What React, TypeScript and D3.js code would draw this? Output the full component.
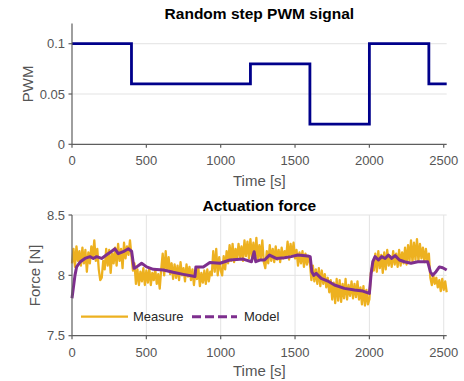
import React from "react";
import * as d3 from "d3";

// ---------- data ----------
const pwmTimes = [0, 400, 1200, 1600, 2000, 2400, 2520];
const pwmValues = [0.1, 0.06, 0.08, 0.02, 0.1, 0.06, 0.06];

const xTicks = [0, 500, 1000, 1500, 2000, 2500];
const pwmTicks = [0, 0.05, 0.1];
const pwmTickLabels = ["0", "0.05", "0.1"];
const forceTicks = [7.5, 8, 8.5];
const forceTickLabels = ["7.5", "8", "8.5"];

// measured force, sampled every 10 s from t = 0
const measureStart = 0;
const measureStep = 10;
const measureValues = [
  8.10, 8.22, 8.07, 8.24, 8.12, 8.20, 8.08, 8.23, 8.10, 8.21,
  8.03, 8.19, 8.10, 8.24, 8.15, 8.29, 8.12, 8.22, 8.05, 7.96,
  7.98, 8.12, 8.05, 8.22, 8.08, 8.21, 8.02, 8.18, 8.10, 8.23,
  8.08, 8.26, 8.12, 8.22, 8.06, 8.27, 8.14, 8.24, 8.17, 8.29,
  8.16, 8.04, 8.10, 7.93, 8.05, 7.92, 8.03, 7.95, 8.06, 7.92,
  8.04, 7.94, 8.06, 7.92, 8.02, 7.96, 8.05, 7.93, 8.01, 7.89,
  8.05, 8.18, 8.00, 8.20, 8.04, 8.15, 8.01, 8.10, 7.97, 8.09,
  7.98, 8.08, 7.96, 8.11, 8.00, 8.06, 7.95, 8.09, 7.99, 8.07,
  7.96, 8.05, 7.92, 8.03, 7.97, 8.06, 7.91, 8.02, 7.94, 8.04,
  7.93, 8.05, 7.95, 8.03, 8.00, 8.20, 8.03, 8.22, 8.00, 8.15,
  8.04, 8.00, 8.16, 8.05, 8.20, 8.10, 8.25, 8.12, 8.26, 8.11,
  8.22, 8.13, 8.26, 8.15, 8.24, 8.12, 8.29, 8.16, 8.28, 8.14,
  8.30, 8.15, 8.27, 8.13, 8.31, 8.12, 8.25, 8.14, 8.29, 8.11,
  8.06, 8.20, 8.10, 8.25, 8.12, 8.22, 8.11, 8.24, 8.13, 8.21,
  8.11, 8.23, 8.14, 8.20, 8.15, 8.28, 8.13, 8.26, 8.16, 8.27,
  8.14, 8.21, 8.08, 8.19, 8.10, 8.20, 8.07, 8.18, 8.09, 8.16,
  8.10, 7.96, 8.08, 7.95, 8.05, 7.93, 8.06, 7.91, 8.04, 7.93,
  8.01, 7.90, 7.98, 7.86, 7.96, 7.80, 7.94, 7.77, 7.97, 7.79,
  7.96, 7.78, 7.93, 7.81, 7.97, 7.80, 7.92, 7.83, 7.95, 7.81,
  7.93, 7.82, 7.95, 7.80, 7.90, 7.76, 7.91, 7.75, 7.88, 7.76,
  7.80, 8.02, 8.08, 8.04, 8.18, 8.03, 8.20, 8.06, 8.17, 8.02,
  8.19, 8.05, 8.21, 8.08, 8.16, 8.07, 8.20, 8.09, 8.18, 8.07,
  8.21, 8.08, 8.19, 8.10, 8.23, 8.09, 8.25, 8.12, 8.29, 8.11,
  8.27, 8.13, 8.30, 8.12, 8.26, 8.14, 8.23, 8.11, 8.22, 8.12,
  8.18, 7.98, 7.92, 8.00, 7.93, 7.98, 7.90, 7.96, 7.87, 7.97,
  7.88, 7.95, 7.86,
];

// model force
const modelTimes = [
  0, 20, 31, 54, 87, 121, 143, 166, 199, 233, 267, 289, 311, 345, 379, 401,
  417, 435, 468, 502, 547, 614, 681, 748, 827, 833, 883, 927, 995, 1062,
  1151, 1207, 1225, 1236, 1263, 1295, 1328, 1373, 1429, 1474, 1519, 1586,
  1602, 1613, 1626, 1642, 1676, 1720, 1765, 1832, 1900, 1956, 2000, 2012,
  2023, 2038, 2061, 2083, 2106, 2128, 2150, 2173, 2202, 2236, 2280, 2325,
  2392, 2410, 2426, 2448, 2471, 2493, 2520,
];
const modelValues = [
  7.81, 8.0, 8.07, 8.11, 8.14, 8.155, 8.14, 8.155, 8.14, 8.17, 8.2, 8.22,
  8.18, 8.196, 8.22, 8.2, 8.058, 8.07, 8.1, 8.07, 8.05, 8.044, 8.025, 8.008,
  7.99, 8.07, 8.07, 8.107, 8.1, 8.127, 8.135, 8.113, 8.196, 8.113, 8.127,
  8.127, 8.168, 8.14, 8.146, 8.155, 8.168, 8.16, 8.155, 8.03, 8.0, 8.016,
  7.975, 7.953, 7.92, 7.892, 7.878, 7.87, 7.85, 8.016, 8.113, 8.155, 8.127,
  8.155, 8.14, 8.168, 8.14, 8.163, 8.127, 8.113, 8.1, 8.113, 8.113, 8.03,
  8.0, 8.03, 8.07, 8.063, 8.044,
];

const seriesNames = ["Measure", "Model"];

// ---------- layout ----------
const W = 464;
const H = 381;
const left = 72;
const right = 446.7;
const top1 = 23.6;
const bottom1 = 144.3;
const top2 = 215;
const bottom2 = 335.7;

const FONT = "'Liberation Sans', Arial, Helvetica, sans-serif";
const AXIS = "#5e5e5e";
const TEXT = "#555555";
const GRID = "#e3e3e3";

export default function App() {
  const x = d3.scaleLinear().domain([0, 2520]).range([left, right]);
  const y1 = d3.scaleLinear().domain([0, 0.12]).range([bottom1, top1]);
  const y2 = d3.scaleLinear().domain([7.5, 8.5]).range([bottom2, top2]);

  const pwmData = pwmTimes.map((t, i) => [t, pwmValues[i]] as [number, number]);
  const pwmLine = d3
    .line<[number, number]>()
    .x((d) => x(d[0]))
    .y((d) => y1(d[1]))
    .curve(d3.curveStepAfter);

  const measData = measureValues.map(
    (v, i) => [measureStart + i * measureStep, v] as [number, number]
  );
  const modelData = modelTimes.map((t, i) => [t, modelValues[i]] as [number, number]);
  const line2 = d3
    .line<[number, number]>()
    .x((d) => x(d[0]))
    .y((d) => y2(d[1]));

  const renderXAxis = (yPos: number) => (
    <g>
      <line x1={left} x2={right} y1={yPos} y2={yPos} stroke={AXIS} strokeWidth={1.2} />
      {xTicks.map((t) => (
        <g key={t}>
          <line x1={x(t)} x2={x(t)} y1={yPos} y2={yPos + 3.5} stroke={AXIS} strokeWidth={1.2} />
          <text
            x={x(t)}
            y={yPos + 21}
            textAnchor="middle"
            fontSize={13}
            fill={TEXT}
            fontFamily={FONT}
          >
            {t}
          </text>
        </g>
      ))}
    </g>
  );

  const renderYAxis = (
    scale: d3.ScaleLinear<number, number>,
    ticks: number[],
    labels: string[],
    yTop: number,
    yBot: number
  ) => (
    <g>
      <line x1={left} x2={left} y1={yTop} y2={yBot} stroke={AXIS} strokeWidth={1.2} />
      {ticks.map((t, i) => (
        <g key={t}>
          <line x1={left - 3.5} x2={left} y1={scale(t)} y2={scale(t)} stroke={AXIS} strokeWidth={1.2} />
          <text
            x={left - 7}
            y={scale(t) + 4.6}
            textAnchor="end"
            fontSize={13}
            fill={TEXT}
            fontFamily={FONT}
          >
            {labels[i]}
          </text>
        </g>
      ))}
    </g>
  );

  return (
    <svg
      width={W}
      height={H}
      style={{ position: "absolute", left: 0, top: 0, background: "#fff" }}
    >
      <rect x={0} y={0} width={W} height={H} fill="#fff" />

      {/* ---------- top chart ---------- */}
      {pwmTicks
        .filter((t) => t > 0)
        .map((t) => (
          <line key={t} x1={left} x2={right} y1={y1(t)} y2={y1(t)} stroke={GRID} strokeWidth={1} />
        ))}
      <path d={pwmLine(pwmData) || ""} fill="none" stroke="#00008b" strokeWidth={2.8} />
      {renderXAxis(bottom1)}
      {renderYAxis(y1, pwmTicks, pwmTickLabels, top1, bottom1)}
      <text x={(left + right) / 2} y={18.5} textAnchor="middle" fontSize={15.5} fontWeight="bold" fill="#000" fontFamily={FONT}>
        Random step PWM signal
      </text>
      <text x={(left + right) / 2} y={186} textAnchor="middle" fontSize={15} fill={TEXT} fontFamily={FONT}>
        Time [s]
      </text>
      <text
        transform={`translate(33, ${(top1 + bottom1) / 2}) rotate(-90)`}
        textAnchor="middle"
        fontSize={15}
        fill={TEXT}
        fontFamily={FONT}
      >
        PWM
      </text>

      {/* ---------- bottom chart ---------- */}
      {forceTicks
        .filter((t) => t > 7.5)
        .map((t) => (
          <line key={t} x1={left} x2={right} y1={y2(t)} y2={y2(t)} stroke={GRID} strokeWidth={1} />
        ))}
      {xTicks
        .filter((t) => t > 0)
        .map((t) => (
          <line key={t} x1={x(t)} x2={x(t)} y1={top2} y2={bottom2} stroke={GRID} strokeWidth={1} />
        ))}
      <path d={line2(measData) || ""} fill="none" stroke="#EDB120" strokeWidth={2.3} strokeLinejoin="round" />
      <path d={line2(modelData) || ""} fill="none" stroke="#7E2F8E" strokeWidth={3} strokeLinejoin="round" />
      {renderXAxis(bottom2)}
      {renderYAxis(y2, forceTicks, forceTickLabels, top2, bottom2)}
      <text x={(left + right) / 2} y={210.5} textAnchor="middle" fontSize={15.5} fontWeight="bold" fill="#000" fontFamily={FONT}>
        Actuation force
      </text>
      <text x={(left + right) / 2} y={376} textAnchor="middle" fontSize={15} fill={TEXT} fontFamily={FONT}>
        Time [s]
      </text>
      <text
        transform={`translate(39.5, ${(top2 + bottom2) / 2}) rotate(-90)`}
        textAnchor="middle"
        fontSize={15}
        fill={TEXT}
        fontFamily={FONT}
      >
        Force [N]
      </text>

      {/* legend */}
      <line x1={81} x2={128} y1={316.7} y2={316.7} stroke="#EDB120" strokeWidth={2.3} />
      <text x={133} y={321.3} fontSize={13} fill="#262626" fontFamily={FONT}>
        {seriesNames[0]}
      </text>
      <line x1={192} x2={237} y1={316.7} y2={316.7} stroke="#7E2F8E" strokeWidth={3} strokeDasharray="9,4" />
      <text x={244} y={321.3} fontSize={13} fill="#262626" fontFamily={FONT}>
        {seriesNames[1]}
      </text>
    </svg>
  );
}
